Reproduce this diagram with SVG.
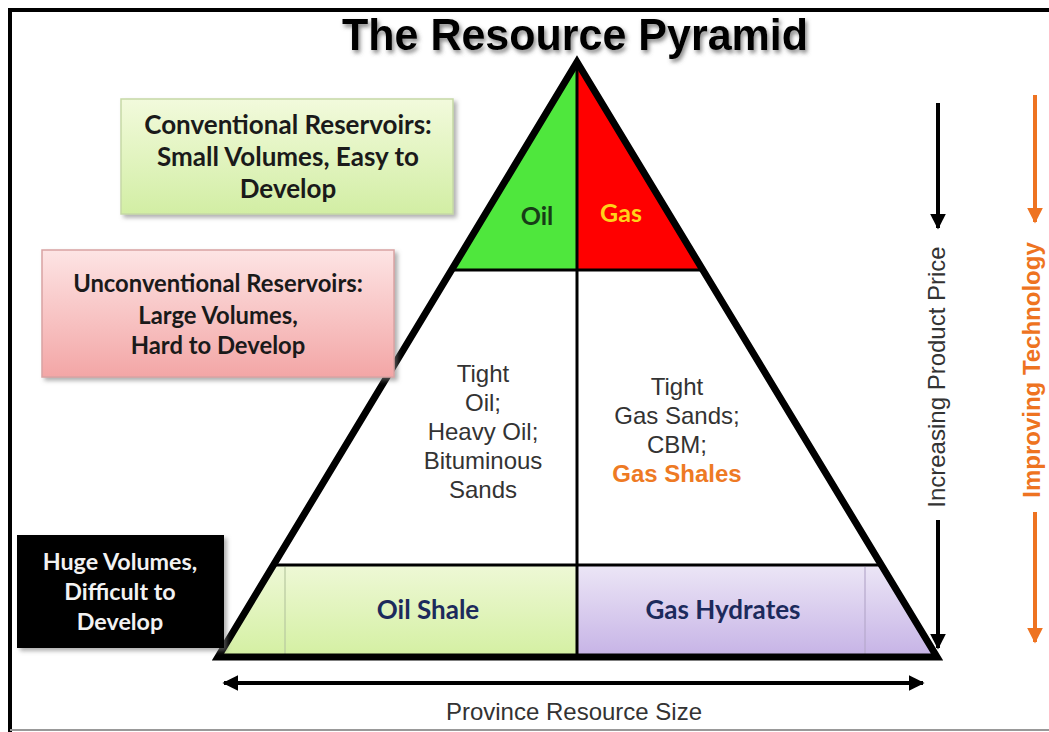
<svg xmlns="http://www.w3.org/2000/svg" width="1049" height="732" viewBox="0 0 1049 732">
  <defs>
    <linearGradient id="gConv" x1="0" y1="0" x2="0" y2="1">
      <stop offset="0" stop-color="#f2fadc"/>
      <stop offset="1" stop-color="#d2eea4"/>
    </linearGradient>
    <linearGradient id="gUnconv" x1="0" y1="0" x2="0" y2="1">
      <stop offset="0" stop-color="#fde4e4"/>
      <stop offset="1" stop-color="#f3a6a6"/>
    </linearGradient>
    <linearGradient id="gShale" x1="0" y1="0" x2="0" y2="1">
      <stop offset="0" stop-color="#eef8d6"/>
      <stop offset="1" stop-color="#d4f0a2"/>
    </linearGradient>
    <linearGradient id="gHydr" x1="0" y1="0" x2="0" y2="1">
      <stop offset="0" stop-color="#ece6f6"/>
      <stop offset="1" stop-color="#c6b3e6"/>
    </linearGradient>
    <filter id="shadow" x="-10%" y="-10%" width="125%" height="130%">
      <feDropShadow dx="3" dy="3" stdDeviation="2" flood-color="#7a7a7a" flood-opacity="0.6"/>
    </filter>
    <filter id="titleShadow" x="-5%" y="-20%" width="110%" height="150%">
      <feDropShadow dx="2" dy="3" stdDeviation="2" flood-color="#555" flood-opacity="0.7"/>
    </filter>
    <marker id="headBlack" viewBox="0 0 10 10" refX="9" refY="5" markerWidth="4" markerHeight="4" orient="auto-start-reverse" markerUnits="strokeWidth">
      <path d="M0,0 L10,5 L0,10 Z" fill="#000"/>
    </marker>
    <marker id="headOrange" viewBox="0 0 10 10" refX="9" refY="5" markerWidth="4" markerHeight="4" orient="auto" markerUnits="strokeWidth">
      <path d="M0,0 L10,5 L0,10 Z" fill="#ee7321"/>
    </marker>
    <style>
      .box { font-family: Lato, "Open Sans", sans-serif; font-weight: 700; text-anchor: middle; }
      .inner { font-family: "Liberation Sans", Arial, sans-serif; font-size: 24px; fill: #333; text-anchor: middle; }
      .band { font-family: Lato, "Open Sans", sans-serif; font-weight: 700; font-size: 26px; fill: #1c2a5c; text-anchor: middle; }
      .axis { font-family: "Liberation Sans", Arial, sans-serif; font-size: 24px; fill: #333; text-anchor: middle; }
    </style>
  </defs>

  <rect width="1049" height="732" fill="#fff"/>

  <!-- outer frame -->
  <line x1="8" y1="10" x2="1049" y2="10" stroke="#000" stroke-width="4"/>
  <line x1="10" y1="8" x2="10" y2="732" stroke="#000" stroke-width="4"/>
  <line x1="10" y1="730" x2="1049" y2="730" stroke="#999" stroke-width="2"/>

  <!-- title -->
  <text x="575" y="50" font-family="'Liberation Sans', Arial, sans-serif" font-weight="700" font-size="44" text-anchor="middle" textLength="466" lengthAdjust="spacingAndGlyphs" filter="url(#titleShadow)">The Resource Pyramid</text>

  <!-- pyramid -->
  <g id="pyramid">
    <!-- conventional tip: oil / gas -->
    <polygon points="577,62 452,270 577,270" fill="#4fe73d"/>
    <polygon points="577,62 577,270 702,270" fill="#ff0000"/>
    <!-- bottom band -->
    <polygon points="275,565 577,565 577,657 220,657" fill="url(#gShale)"/>
    <polygon points="577,565 880,565 935,657 577,657" fill="url(#gHydr)"/>
    <line x1="285" y1="567" x2="285" y2="655" stroke="#b8c8a0" stroke-width="1.2"/>
    <line x1="865" y1="567" x2="865" y2="655" stroke="#b6a8cc" stroke-width="1.2"/>
    <!-- dividers -->
    <line x1="577" y1="62" x2="577" y2="657" stroke="#000" stroke-width="3"/>
    <line x1="452" y1="270" x2="702" y2="270" stroke="#000" stroke-width="3"/>
    <line x1="275" y1="565" x2="880" y2="565" stroke="#000" stroke-width="3"/>
    <!-- outline -->
    <polygon points="577,62 937,657 218,657" fill="none" stroke="#000" stroke-width="7" stroke-linejoin="miter"/>
  </g>

  <g id="tip-labels">
    <text x="537" y="225" font-family="Lato, 'Open Sans', sans-serif" font-weight="700" font-size="25" fill="#173d17" text-anchor="middle">Oil</text>
    <text x="621" y="222" font-family="Lato, 'Open Sans', sans-serif" font-weight="700" font-size="25" fill="#ffd21a" text-anchor="middle">Gas</text>
  </g>

  <g id="unconventional-oil">
    <text class="inner" x="483" y="382">Tight</text>
    <text class="inner" x="483" y="411">Oil;</text>
    <text class="inner" x="483" y="440">Heavy Oil;</text>
    <text class="inner" x="483" y="469">Bituminous</text>
    <text class="inner" x="483" y="498">Sands</text>
  </g>

  <g id="unconventional-gas">
    <text class="inner" x="677" y="395">Tight</text>
    <text class="inner" x="677" y="424">Gas Sands;</text>
    <text class="inner" x="677" y="453">CBM;</text>
    <text class="inner" x="677" y="482" font-weight="700" style="fill:#ee7a24">Gas Shales</text>
  </g>

  <g id="oil-shale">
    <text class="band" x="428" y="619">Oil Shale</text>
  </g>
  <g id="gas-hydrates">
    <text class="band" x="723" y="619">Gas Hydrates</text>
  </g>

  <!-- side boxes -->
  <g id="conventional-box">
    <rect x="121" y="99" width="332" height="115" fill="url(#gConv)" stroke="#c6d9a6" stroke-width="1.5" filter="url(#shadow)"/>
    <text class="box" x="288" y="134" font-size="26" fill="#1a1a1a">Conventional Reservoirs:</text>
    <text class="box" x="288" y="166" font-size="26" fill="#1a1a1a">Small Volumes, Easy to</text>
    <text class="box" x="288" y="198" font-size="26" fill="#1a1a1a">Develop</text>
  </g>

  <g id="unconventional-box">
    <rect x="42" y="250" width="352" height="127" fill="url(#gUnconv)" stroke="#d9a3a3" stroke-width="1.5" filter="url(#shadow)"/>
    <text class="box" x="218" y="292" font-size="23.8" fill="#1a1a1a">Unconventional Reservoirs:</text>
    <text class="box" x="218" y="324" font-size="23.8" fill="#1a1a1a">Large Volumes,</text>
    <text class="box" x="218" y="354" font-size="23.8" fill="#1a1a1a">Hard to Develop</text>
  </g>

  <g id="difficult-box">
    <rect x="17" y="535" width="207" height="113" fill="#000" filter="url(#shadow)"/>
    <text class="box" x="120" y="570" font-size="23.3" fill="#f2f2f2">Huge Volumes,</text>
    <text class="box" x="120" y="600" font-size="23.3" fill="#f2f2f2">Difficult to</text>
    <text class="box" x="120" y="630" font-size="23.3" fill="#f2f2f2">Develop</text>
  </g>

  <!-- axis arrows -->
  <g id="connectors">
    <line x1="938" y1="103" x2="938" y2="228" stroke="#000" stroke-width="4" marker-end="url(#headBlack)"/>
    <line x1="938" y1="520" x2="938" y2="648" stroke="#000" stroke-width="4" marker-end="url(#headBlack)"/>
    <line x1="1035" y1="95" x2="1035" y2="222" stroke="#ee7321" stroke-width="4" marker-end="url(#headOrange)"/>
    <line x1="1035" y1="512" x2="1035" y2="642" stroke="#ee7321" stroke-width="4" marker-end="url(#headOrange)"/>
    <line x1="224" y1="683" x2="923" y2="683" stroke="#000" stroke-width="4" marker-start="url(#headBlack)" marker-end="url(#headBlack)"/>
  </g>

  <g id="axis-labels">
    <text class="axis" transform="translate(945,377) rotate(-90)">Increasing Product Price</text>
    <text class="axis" transform="translate(1040,370) rotate(-90)" font-weight="700" style="fill:#ee7321">Improving Technology</text>
    <text class="axis" x="574" y="720">Province Resource Size</text>
  </g>
</svg>
